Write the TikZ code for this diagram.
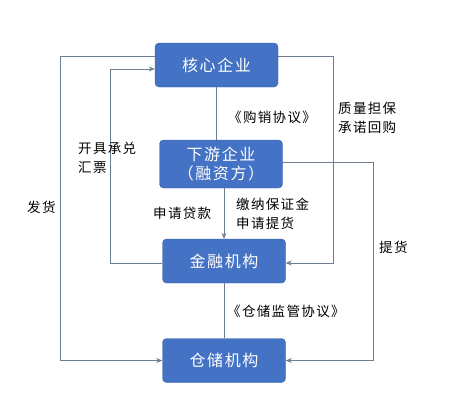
\documentclass[tikz,border=0pt]{standalone}
\usepackage{fontspec}
\newfontfamily\cjk[LetterSpace=10]{Noto Sans CJK SC}
\usetikzlibrary{arrows.meta}
\definecolor{boxblue}{HTML}{4472C4}
\definecolor{boxedge}{HTML}{3B63AE}
\definecolor{linegray}{HTML}{6E7D92}
\tikzset{
  party/.style={draw=boxedge, fill=boxblue, rounded corners=4pt, text=white,
    minimum width=123pt, minimum height=44pt, font=\cjk\fontsize{16}{19}\selectfont, inner sep=0pt},
  link/.style={draw=linegray, line width=0.8pt},
  flow/.style={link, -{Stealth[length=6pt,width=5pt]}},
  note/.style={font=\cjk\fontsize{13.5}{19.5}\selectfont, align=left, inner sep=0pt}
}
\begin{document}
\begin{tikzpicture}[x=1pt,y=-1pt]
	\useasboundingbox (0,0) rectangle (454,413);
	% parties
	\node[party] (hexin) at (216.5,65){核心企业};
	\node[party, minimum height=48pt, align=center] (xiayou) at (221,164){下游企业\\（融资方）};
	\node[party] (jinrong) at (224,261){金融机构};
	\node[party] (cangchu) at (224,360.5){仓储机构};
	% turning points
	\coordinate (fh1) at (60,56);
	\coordinate (fh2) at (60,360.5);
	\coordinate (hp1) at (110,263);
	\coordinate (hp2) at (110,69);
	\coordinate (db1) at (333,56);
	\coordinate (db2) at (333,263);
	\coordinate (th1) at (373,162);
	\coordinate (th2) at (373,360.5);
	% connectors
	\draw[link] (hexin.south) -- (hexin.south |- xiayou.north);
	\draw[flow] (xiayou.south -| jinrong.north) -- (jinrong.north);
	\draw[link] (jinrong.south) -- (cangchu.north);
	\draw[flow] (hexin.west |- fh1) -- (fh1) -- (fh2) -- (cangchu.west);
	\draw[flow] (jinrong.west |- hp1) -- (hp1) -- (hp2) -- (hexin.west |- hp2);
	\draw[flow] (hexin.east |- db1) -- (db1) -- (db2) -- (jinrong.east |- db2);
	\draw[flow] (xiayou.east |- th1) -- (th1) -- (th2) -- (cangchu.east);
	% labels
	\node[note, anchor=west] (gx) at (228,117){《购销协议》};
	\node[note, anchor=west] (zl) at (338,118){质量担保\\承诺回购};
	\node[note, anchor=west] (kj) at (78,158){开具承兑\\汇票};
	\node[note, anchor=west] (fh) at (27,207){发货};
	\node[note, anchor=west] (sq) at (153,213){申请贷款};
	\node[note, anchor=west] (jn) at (236,214){缴纳保证金\\申请提货};
	\node[note, anchor=west] (th) at (379,247){提货};
	\node[note, anchor=west] (cc) at (227,311){《仓储监管协议》};
\end{tikzpicture}
\end{document}
